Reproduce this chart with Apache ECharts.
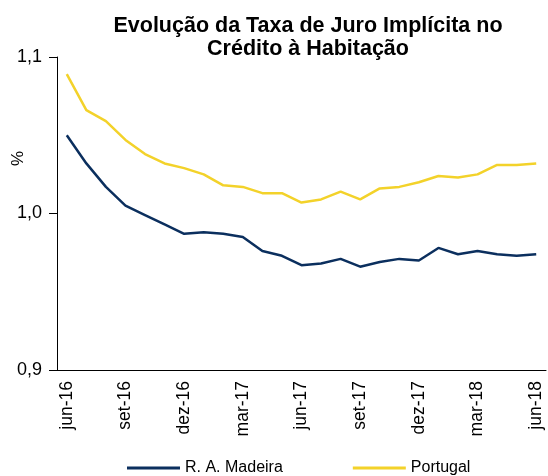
<!DOCTYPE html>
<html>
<head>
<meta charset="utf-8">
<script src="https://cdn.jsdelivr.net/npm/echarts@6/dist/echarts.min.js"></script>
<style>
  html, body { margin: 0; padding: 0; background: #fff; }
  #chart { width: 548px; height: 476px; }
</style>
</head>
<body>
<div id="chart"></div>
<script>
// months jun-16 .. jun-18
const months = ['jun-16','jul-16','ago-16','set-16','out-16','nov-16','dez-16','jan-17','fev-17','mar-17','abr-17','mai-17',
  'jun-17','jul-17','ago-17','set-17','out-17','nov-17','dez-17','jan-18','fev-18','mar-18','abr-18','mai-18','jun-18']

const madeira = [1.050, 1.032, 1.017, 1.005, 0.999, 0.993, 0.987, 0.988, 0.987, 0.985, 0.976, 0.973,
  0.967, 0.968, 0.971, 0.966, 0.969, 0.971, 0.970, 0.978, 0.974, 0.976, 0.974, 0.973, 0.974]

const portugal = [1.089, 1.066, 1.059, 1.047, 1.038, 1.032, 1.029, 1.025, 1.018, 1.017, 1.013, 1.013,
  1.007, 1.009, 1.014, 1.009, 1.016, 1.017, 1.020, 1.024, 1.023, 1.025, 1.031, 1.031, 1.032]

const yTicks = [0.9, 1.0, 1.1]

const font = 'Liberation Sans, Arial, sans-serif'
let myChart = echarts.init(document.getElementById('chart'))

let options = {
  animation: false,
  title: {
    text: 'Evolução da Taxa de Juro Implícita no\nCrédito à Habitação',
    left: 303,
    textAlign: 'center',
    top: 10,
    textStyle: { fontFamily: font, fontSize: 21.5, fontWeight: 'bold', color: '#000', lineHeight: 23 }
  },
  legend: {
    top: 455,
    left: 122,
    itemWidth: 53,
    itemHeight: 3,
    itemGap: 70,
    icon: 'rect',
    textStyle: { fontFamily: font, fontSize: 16, color: '#000' },
    data: ['R. A. Madeira', 'Portugal']
  },
  grid: { left: 57, right: 2, top: 57, bottom: 106, containLabel: false, outerBoundsMode: 'none' },
  xAxis: {
    type: 'category',
    data: months,
    boundaryGap: true,
    axisLine: { lineStyle: { color: '#000', width: 1 } },
    axisTick: { interval: 2, length: 6, lineStyle: { color: '#000' } },
    axisLabel: { interval: 2, rotate: 90, margin: 11, fontFamily: font, fontSize: 17.5, color: '#000' }
  },
  yAxis: {
    type: 'value',
    min: yTicks[0],
    max: yTicks[yTicks.length - 1],
    interval: 0.1,
    name: '%',
    nameLocation: 'middle',
    nameRotate: 90,
    nameGap: 30,
    nameMoveOverlap: false,
    nameTextStyle: { fontFamily: font, fontSize: 17, color: '#000', padding: [0, 0, 0, 110] },
    splitLine: { show: false },
    axisLine: { show: true, lineStyle: { color: '#000', width: 1 } },
    axisTick: { show: true, length: 8, lineStyle: { color: '#000' } },
    axisLabel: {
      margin: 15,
      fontFamily: font, fontSize: 18, color: '#000',
      formatter: v => v.toFixed(1).replace('.', ',')
    }
  },
  series: [
    {
      name: 'R. A. Madeira',
      type: 'line',
      data: madeira,
      symbol: 'none',
      color: '#0b2f5e',
      lineStyle: { color: '#0b2f5e', width: 2.5 }
    },
    {
      name: 'Portugal',
      type: 'line',
      data: portugal,
      symbol: 'none',
      color: '#f3d22a',
      lineStyle: { color: '#f3d22a', width: 2.5 }
    }
  ]
}
myChart.setOption(options)
</script>
</body>
</html>
